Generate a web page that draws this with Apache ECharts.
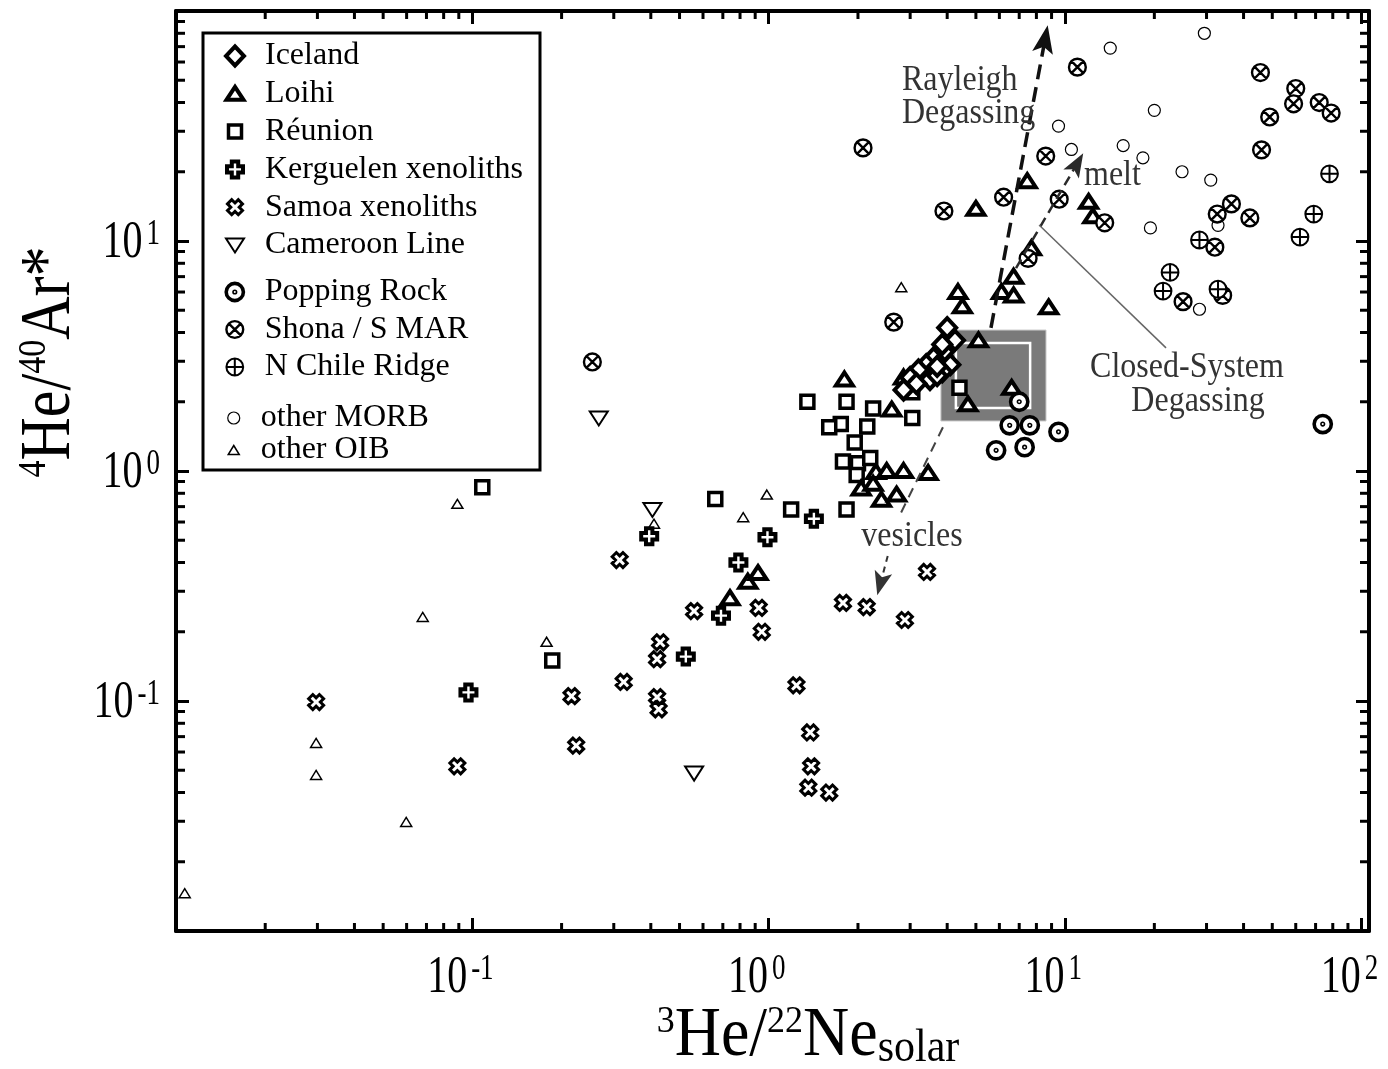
<!DOCTYPE html>
<html><head><meta charset="utf-8">
<script src="https://cdn.jsdelivr.net/npm/echarts@6/dist/echarts.min.js"></script>
<style>html,body{margin:0;padding:0;background:#fff}#c{width:1388px;height:1069px}</style>
</head><body><div id="c"></div>
<script>
// ---- data: [3He/22Ne solar, 4He/40Ar*] ----
const iceland = [[4.0,4.2],[4.25,3.7],[3.9,3.3],[3.85,3.55],[4.1,2.9],[3.85,2.7],[3.6,3.1],[3.4,2.9],[3.2,2.75],[3.0,2.55],[3.5,2.5],[3.7,2.6],[3.15,2.4],[2.85,2.25],[3.7,2.85]];
const loihi = [[7.45,18.2],[5.0,13.8],[12.0,14.8],[12.4,12.8],[7.7,9.3],[6.7,7.0],[6.1,6.0],[6.7,5.8],[8.8,5.15],[4.35,6.0],[4.5,5.2],[5.1,3.7],[6.6,2.3],[4.7,1.95],[1.8,2.5],[2.6,1.85],[2.85,2.55],[4.0,3.15],[2.05,0.84],[2.3,0.99],[2.5,1.0],[2.85,1.0],[3.45,0.98],[2.4,0.75],[2.7,0.79],[2.25,0.88],[0.74,0.28],[0.85,0.33],[0.92,0.36]];
const reunion = [[0.108,0.85],[0.186,0.15],[0.66,0.755],[1.19,0.68],[1.83,0.68],[1.35,2.0],[1.83,2.0],[2.25,1.87],[1.75,1.6],[1.6,1.55],[2.15,1.56],[3.05,1.7],[3.05,2.2],[1.95,1.33],[1.78,1.1],[2.0,1.08],[2.2,1.14],[1.98,0.96],[4.4,2.3]];
const kerguelen = [[0.097,0.109],[0.395,0.52],[0.99,0.515],[1.42,0.62],[0.79,0.4],[0.69,0.235],[0.525,0.156]];
const samoa = [[0.0297,0.099],[0.089,0.052],[0.216,0.105],[0.224,0.064],[0.314,0.41],[0.324,0.121],[0.43,0.18],[0.42,0.152],[0.42,0.104],[0.425,0.092],[0.56,0.246],[0.925,0.254],[0.947,0.2],[1.24,0.117],[1.38,0.073],[1.39,0.052],[1.36,0.042],[1.6,0.040],[1.78,0.267],[2.14,0.256],[2.88,0.225],[3.42,0.364]];
const cameroon = [[0.267,1.7],[0.405,0.68],[0.56,0.0486]];
const popping = [[7.0,2.0],[6.5,1.58],[7.6,1.58],[9.5,1.48],[5.85,1.23],[7.3,1.27],[74,1.6]];
const shona = [[0.254,2.98],[2.08,25.4],[2.64,4.44],[3.9,13.5],[11.0,57],[8.6,23.4],[6.2,15.5],[9.55,15.2],[13.6,12.0],[7.5,8.4],[45.6,54],[60,46],[59,39.5],[49,34.6],[72,40],[79,36],[46,24.9],[32.6,13.1],[36.4,14.5],[42,12.6],[32,9.4],[25,5.45],[34,5.8]];
const nChile = [[78,19.6],[69,13.1],[62,10.4],[28.4,10.1],[22.6,7.3],[21.4,6.06],[32.8,6.17]];
const otherMORB = [[29.5,80],[14.2,69],[20,37],[9.5,31.6],[10.5,25],[15.7,26],[18.3,23],[24.8,20],[31,18.4],[19.4,11.4],[32.8,11.7],[28.4,5.05]];
const otherOIB = [[0.0107,0.0146],[0.0297,0.0657],[0.0297,0.0477],[0.0598,0.0298],[0.068,0.232],[0.089,0.72],[0.178,0.181],[0.41,0.59],[0.82,0.63],[0.985,0.79],[2.8,6.3]];

// annotations (data coordinates)
const outerBox = [[3.81,4.1],[8.62,1.65]];
const innerBox = [[4.28,3.6],[7.62,1.88]];
const rayleighArrow = [[5.62,4.19],[8.56,75.5]];
const meltArrow = [[6.83,7.63],[10.98,21.7]];
const vesiclesLine = [[3.87,1.55],[2.75,0.631]];
const vesiclesArrow = [[2.52,0.427],[2.38,0.324]];
const closedSystemLine = [[8.17,11.74],[21.9,3.43]];

// axes
const xRange = [0.01, 106];
const yRange = [0.01, 100];
const xTickLabels = [0.1, 1, 10, 100];
const yTickLabels = [0.1, 1, 10];
const minorTicks = [0.02,0.03,0.04,0.05,0.06,0.07,0.08,0.09,0.2,0.3,0.4,0.5,0.6,0.7,0.8,0.9,2,3,4,5,6,7,8,9,20,30,40,50,60,70,80,90];

// ---- styling ----
const FONT = '"Liberation Serif","Times New Roman",serif';
function box(b, body){ return 'path://M0,0 M' + b + ',' + b + ' ' + body; }
function circ(cx, cy, r){ return 'M' + (cx-r) + ',' + cy + ' A' + r + ',' + r + ' 0 1,1 ' + (cx+r) + ',' + cy + ' A' + r + ',' + r + ' 0 1,1 ' + (cx-r) + ',' + cy + ' Z '; }
const SYM = {
  diamond: box(24, 'M12,2.5 L21,12 L12,21.5 L3,12 Z'),
  tri: box(24, 'M12,5 L20.5,18 L3.5,18 Z'),
  square: box(24, 'M5.5,5.5 L18.5,5.5 L18.5,18.5 L5.5,18.5 Z'),
  plus: box(24, 'M8.8,4 L15.2,4 L15.2,8.8 L20,8.8 L20,15.2 L15.2,15.2 L15.2,20 L8.8,20 L8.8,15.2 L4,15.2 L4,8.8 L8.8,8.8 Z'),
  xcross: box(24, 'M4.5,8.7 L8.7,4.5 L12,7.8 L15.3,4.5 L19.5,8.7 L16.2,12 L19.5,15.3 L15.3,19.5 L12,16.2 L8.7,19.5 L4.5,15.3 L7.8,12 Z'),
  invtri: box(24, 'M3,5.5 L21,5.5 L12,19.5 Z'),
  pop: box(24, circ(12,12,8.6) + circ(12,12,0.8)),
  shona: box(24, circ(12,12,8.4) + 'M6.06,6.06 L17.94,17.94 M17.94,6.06 L6.06,17.94'),
  chile: box(24, circ(12,12,8.4) + 'M12,3.6 L12,20.4 M3.6,12 L20.4,12'),
  morb: box(16, circ(8,8,6)),
  oib: box(16, 'M8,3.5 L13.5,12.5 L2.5,12.5 Z'),
  arrow: box(20, 'M10,0 L17.5,20 L10,15.5 L2.5,20 Z')
};
const BW = {'Iceland':4, 'Loihi':4, 'Réunion':3.5, 'Kerguelen xenoliths':4, 'Samoa xenoliths':3, 'Cameroon Line':2,
  'Popping Rock':3.6, 'Shona / S MAR':2.4, 'N Chile Ridge':2, 'other MORB':1.2, 'other OIB':1.5};

function sc(name, data, symbol, size){
  return {type:'scatter', name:name, data:data, symbol:symbol, symbolSize:size, silent:true,
    itemStyle:{color:'#fff', borderColor:'#000', borderWidth:BW[name], opacity:1},
    emphasis:{disabled:true}, z:2};
}
function axisBase(pos, range){
  return {type:'log', logBase:10, min:range[0], max:range[1], position:pos,
    axisLine:{show:true, onZero:false, lineStyle:{color:'#000', width:4}},
    axisTick:{show:true, inside:true, length:13, lineStyle:{color:'#000', width:3}},
    minorTick:{show:false}, splitLine:{show:false}, minorSplitLine:{show:false},
    axisLabel:{show:false}};
}
function helperLine(name, pts, color, width, dash, arrowSize){
  return {type:'scatter', name:name, data:[], z:2, silent:true,
    markLine:{silent:true, animation:false, symbol:['none', arrowSize ? SYM.arrow : 'none'],
      symbolSize:arrowSize || 1, label:{show:false}, emphasis:{disabled:true},
      lineStyle:{color:color, width:width, type:dash, opacity:1},
      itemStyle:{color:color, borderWidth:0},
      data:[[{coord:pts[0]},{coord:pts[1]}]]}};
}
function helperArea(name, rect, fill, border, bw){
  return {type:'scatter', name:name, data:[], z:1, silent:true,
    markArea:{silent:true, label:{show:false}, emphasis:{disabled:true},
      itemStyle:{color:fill, borderColor:border, borderWidth:bw, opacity:1},
      data:[[{coord:rect[0]},{coord:rect[1]}]]}};
}
function minorRender(isX){
  return function(params, api){
    const cs = params.coordSys;
    const ch = [];
    if(isX){
      const x = api.coord([api.value(0), 1])[0];
      ch.push({type:'line', shape:{x1:x, y1:cs.y+cs.height, x2:x, y2:cs.y+cs.height-8}, style:{stroke:'#000', lineWidth:3}});
      ch.push({type:'line', shape:{x1:x, y1:cs.y, x2:x, y2:cs.y+8}, style:{stroke:'#000', lineWidth:3}});
    } else {
      const y = api.coord([1, api.value(1)])[1];
      ch.push({type:'line', shape:{x1:cs.x, y1:y, x2:cs.x+9, y2:y}, style:{stroke:'#000', lineWidth:3}});
      ch.push({type:'line', shape:{x1:cs.x+cs.width, y1:y, x2:cs.x+cs.width-9, y2:y}, style:{stroke:'#000', lineWidth:3}});
    }
    return {type:'group', children:ch};
  };
}
const legendText = {fontSize:32, fontFamily:FONT, color:'#000', lineHeight:30};
function legendItems(names){ return names.map(n => ({name:n, itemStyle:{color:'#fff', borderColor:'#000', borderWidth:BW[n]}})); }
const annoFont = '32px ' + FONT;
function anno(text, x, y, align){
  return {type:'text', x:x, y:y, scaleY:1.12, z:6, silent:true,
    style:{text:text, font:annoFont, fill:'#333', align:align, verticalAlign:'middle', lineHeight:30}};
}
const baseGraphics = [
  {type:'rect', shape:{x:203, y:33, width:337, height:437}, style:{fill:'#fff', stroke:'#000', lineWidth:3}, z:3, silent:true},
  anno('Rayleigh\nDegassing', 902, 97, 'left'),
  anno('melt', 1084, 176, 'left'),
  anno('Closed-System', 1187, 368, 'center'),
  anno('Degassing', 1198, 402, 'center'),
  anno('vesicles', 912, 537, 'center'),
  {type:'text', x:808, y:1037, scaleY:1.08, z:6, silent:true, style:{text:'{sup|3}{b|He/}{sup|22}{b|Ne}{sub|solar}', align:'center', verticalAlign:'middle',
    rich:{b:{fontSize:64, fontFamily:FONT, fill:'#000'}, sup:{fontSize:36, fontFamily:FONT, fill:'#000', verticalAlign:'top'}, sub:{fontSize:42, fontFamily:FONT, fill:'#000', verticalAlign:'bottom'}}}},
  {type:'text', x:50, y:362, rotation:Math.PI/2, scaleY:1.2, z:6, silent:true, style:{text:'{sup|4}{b|He/}{sup|40}{b|Ar*}', align:'center', verticalAlign:'middle',
    rich:{b:{fontSize:60, fontFamily:FONT, fill:'#000'}, sup:{fontSize:34, fontFamily:FONT, fill:'#000', verticalAlign:'top'}}}}
];

const chart = echarts.init(document.getElementById('c'), null, {renderer:'canvas'});
chart.setOption({
  animation:false,
  backgroundColor:'#fff',
  grid:{left:176, right:19, top:11, bottom:138, containLabel:false, outerBoundsMode:'none'},
  xAxis:[axisBase('bottom', xRange), axisBase('top', xRange)],
  yAxis:[axisBase('left', yRange), axisBase('right', yRange)],
  legend:[
    {data:legendItems(['Iceland','Loihi','Réunion','Kerguelen xenoliths','Samoa xenoliths','Cameroon Line']),
     orient:'vertical', left:221, top:40, padding:0, itemGap:5.8, itemWidth:24, itemHeight:24,
     selectedMode:false, textStyle:Object.assign({padding:[0,0,0,13]}, legendText)},
    {data:legendItems(['Popping Rock','Shona / S MAR','N Chile Ridge']),
     orient:'vertical', left:221, top:276, padding:0, itemGap:5.5, itemWidth:24, itemHeight:24,
     selectedMode:false, textStyle:Object.assign({padding:[0,0,0,13]}, legendText)},
    {data:legendItems(['other MORB','other OIB']),
     orient:'vertical', left:225, top:402, padding:0, itemGap:0, itemWidth:16, itemHeight:16,
     selectedMode:false, textStyle:Object.assign({padding:[0,0,0,14]}, legendText)}
  ],
  graphic:baseGraphics,
  series:[
    helperArea('_outer', outerBox, '#7a7a7a', '#c8c8c8', 1),
    helperArea('_inner', innerBox, '#7a7a7a', '#ffffff', 2.5),
    helperLine('_rayleigh', rayleighArrow, '#111', 3.5, [15,8], 28),
    helperLine('_melt', meltArrow, '#2a2a2a', 2.5, [10,6], 24),
    helperLine('_ves1', vesiclesLine, '#444', 2, [10,7], 0),
    helperLine('_ves2', vesiclesArrow, '#333', 2, [6,5], 24),
    helperLine('_closed', closedSystemLine, '#666', 1.5, 'solid', 0),
    {type:'custom', name:'_xminor', data:minorTicks.map(v => [v, 1]), renderItem:minorRender(true), silent:true, z:5, clip:false},
    {type:'custom', name:'_yminor', data:minorTicks.map(v => [1, v]), renderItem:minorRender(false), silent:true, z:5, clip:false},
    sc('other MORB', otherMORB, SYM.morb, 16),
    sc('other OIB', otherOIB, SYM.oib, 16),
    sc('Cameroon Line', cameroon, SYM.invtri, 24),
    sc('Samoa xenoliths', samoa, SYM.xcross, 24),
    sc('Kerguelen xenoliths', kerguelen, SYM.plus, 24),
    sc('Réunion', reunion, SYM.square, 24),
    sc('Loihi', loihi, SYM.tri, 24),
    sc('Iceland', iceland, SYM.diamond, 24),
    sc('Shona / S MAR', shona, SYM.shona, 24),
    sc('N Chile Ridge', nChile, SYM.chile, 24),
    sc('Popping Rock', popping, SYM.pop, 24)
  ]
});

// tick labels placed through the axis scales
const tickRich = {
  b:{fontSize:40, fontFamily:FONT, fill:'#000'},
  s:{fontSize:27, fontFamily:FONT, fill:'#000', verticalAlign:'top', padding:[0,0,0,4]}
};
const tickGraphics = [];
xTickLabels.forEach(function(v){
  const px = chart.convertToPixel({xAxisIndex:0}, v);
  tickGraphics.push({type:'text', x:px - 12, y:978, scaleY:1.3, z:6, silent:true,
    style:{text:'{b|10}{s|' + Math.round(Math.log10(v)) + '}', align:'center', verticalAlign:'middle', rich:tickRich}});
});
yTickLabels.forEach(function(v){
  const py = chart.convertToPixel({yAxisIndex:0}, v);
  tickGraphics.push({type:'text', x:160, y:py + 2, scaleY:1.3, z:6, silent:true,
    style:{text:'{b|10}{s|' + Math.round(Math.log10(v)) + '}', align:'right', verticalAlign:'middle', rich:tickRich}});
});
chart.setOption({graphic: baseGraphics.concat(tickGraphics)});
</script>
</body></html>
